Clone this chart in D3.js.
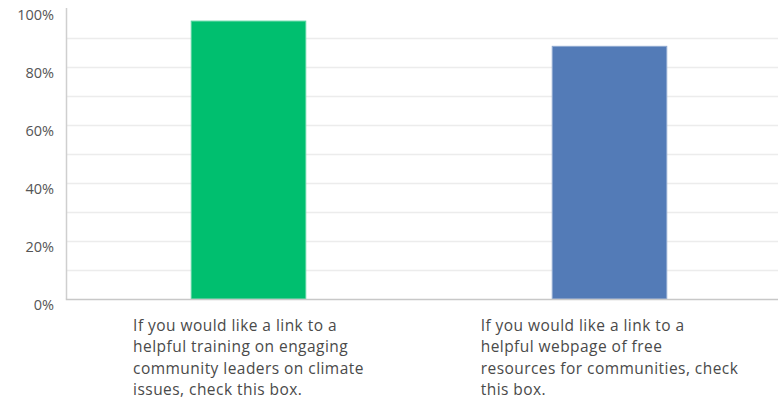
<!DOCTYPE html>
<html>
<head>
<meta charset="utf-8">
<script src="https://cdn.jsdelivr.net/npm/d3@7"></script>
<style>
  html, body { margin: 0; padding: 0; background: #fff; }
  svg { display: block; }
</style>
</head>
<body>
<svg id="chart" width="778" height="399"></svg>
<script>
// ---- data ----
const categories = [
  "If you would like a link to a helpful training on engaging community leaders on climate issues, check this box.",
  "If you would like a link to a helpful webpage of free resources for communities, check this box."
];
const categoryLines = [
  ["If you would like a link to a", "helpful training on engaging", "community leaders on climate", "issues, check this box."],
  ["If you would like a link to a", "helpful webpage of free", "resources for communities, check", "this box."]
];
const values = [0.96, 0.873];
const barColors = ["#00BF6F", "#537BB7"];
const yTicks = [0, 0.2, 0.4, 0.6, 0.8, 1.0];
const yTickLabels = ["0%", "20%", "40%", "60%", "80%", "100%"];
const gridValues = [0.1, 0.2, 0.3, 0.4, 0.5, 0.6, 0.7, 0.8, 0.9];

// ---- layout ----
const svg = d3.select("#chart");
const W = 778;
const axisX = 66.5;
const y = d3.scaleLinear().domain([0, 1]).range([299, 9]);
const x = d3.scaleBand().domain(categories).range([68, 790]).paddingInner(0.68).paddingOuter(0.34);

const font = "'Open Sans', 'Noto Sans', sans-serif";

// gridlines
svg.append("g").selectAll("line").data(gridValues).join("line")
  .attr("x1", axisX).attr("x2", W)
  .attr("y1", d => Math.round(y(d)) + 0.5).attr("y2", d => Math.round(y(d)) + 0.5)
  .attr("stroke", "#ececec").attr("stroke-width", 1.5);

// bars
svg.append("g").selectAll("rect").data(categories).join("rect")
  .attr("x", d => x(d) + 0.5)
  .attr("y", (d, i) => y(values[i]) + 0.5)
  .attr("width", x.bandwidth() - 1)
  .attr("height", (d, i) => y(0) - y(values[i]) - 0.5)
  .attr("fill", (d, i) => barColors[i])
  .attr("stroke", (d, i) => d3.interpolateRgb(barColors[i], "#fff")(0.35))
  .attr("stroke-width", 1);

// y axis line
svg.append("line")
  .attr("x1", axisX).attr("x2", axisX).attr("y1", 8).attr("y2", y(0))
  .attr("stroke", "#cfcfcf").attr("stroke-width", 1.5);
// x axis line
svg.append("line")
  .attr("x1", axisX - 0.75).attr("x2", W).attr("y1", y(0) + 0.5).attr("y2", y(0) + 0.5)
  .attr("stroke", "#c8c8c8").attr("stroke-width", 1.5);

// y tick labels
svg.append("g").selectAll("text").data(yTicks).join("text")
  .attr("x", 54).attr("y", d => y(d) + 11)
  .attr("text-anchor", "end")
  .attr("font-family", font).attr("font-size", 14.5)
  .attr("fill", "#555")
  .text((d, i) => yTickLabels[i]);

// x labels: block centered under bar, text left-aligned
const lbl = svg.append("g").selectAll("g").data(categories).join("g");
lbl.each(function (d, i) {
  const g = d3.select(this);
  const texts = g.selectAll("text").data(categoryLines[i]).join("text")
    .attr("y", (t, j) => 331 + j * 21.3)
    .attr("font-family", font).attr("font-size", 15.5)
    .attr("letter-spacing", 0.45)
    .attr("fill", "#4a4a4a")
    .text(t => t);
  let maxW = 0;
  texts.each(function () { maxW = Math.max(maxW, this.getComputedTextLength()); });
  const cx = x(d) + x.bandwidth() / 2;
  texts.attr("x", cx - maxW / 2);
});
</script>
</body>
</html>
